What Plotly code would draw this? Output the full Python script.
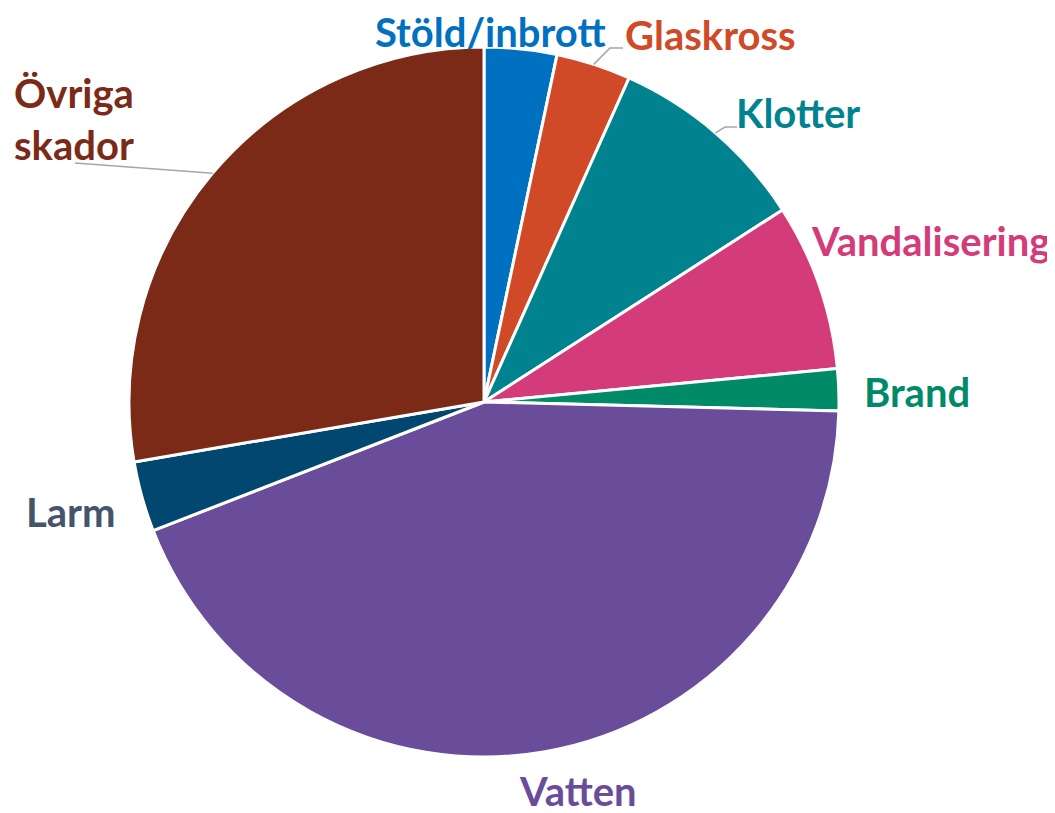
import math
import plotly.graph_objects as go

# ---- data ----
labels = ["Stöld/inbrott", "Glaskross", "Klotter", "Vandalisering", "Brand",
          "Vatten", "Larm", "Övriga skador"]
values = [3.3, 3.4, 9.2, 7.6, 1.9, 43.7, 3.2, 27.7]

# ---- styles ----
slice_colors = ["#0070C0", "#D04A27", "#00838F", "#D43B7A", "#008A68",
                "#694D9B", "#02476F", "#7B2A17"]
text_colors = ["#0070C0", "#D04A27", "#00838F", "#D43B7A", "#008A68",
               "#694D9B", "#44546A", "#7B2A17"]
label_text = ["Stöld/inbrott", "Glaskross", "Klotter", "Vandalisering", "Brand",
              "Vatten", "Larm", "Övriga<br>skador"]
# label centre positions in screen pixels (layout, not data)
label_pos = [(490, 32), (710, 35), (798, 113), (930, 241), (917, 392),
             (578, 791), (71, 512), (74, 119)]
label_align = ["center"] * 7 + ["left"]
# leader lines: end points near the label (screen pixels)
leader_end = {1: [(610, 48), (623, 48)], 2: [(725, 127), (737, 127)],
              7: [(75, 163)]}

W, H = 1055, 813
OFF = 8  # page body margin offset
cx, cy, r = 484 - OFF, 402 - OFF, 355


def px2paper(x, y):
    return (x - OFF) / W, 1 - (y - OFF) / H


fig = go.Figure(go.Pie(
    labels=labels,
    values=values,
    sort=False,
    direction="clockwise",
    rotation=0,
    textinfo="none",
    marker=dict(colors=slice_colors, line=dict(color="white", width=3)),
    domain=dict(x=[(cx - r) / W, (cx + r) / W], y=[(H - cy - r) / H, (H - cy + r) / H]),
    showlegend=False,
    hoverinfo="label+value",
))

total = sum(values)
cum = 0.0
annotations = []
shapes = []
for i, v in enumerate(values):
    mid = (cum + v / 2) / total * 2 * math.pi
    cum += v
    ax, ay = px2paper(*label_pos[i])
    annotations.append(dict(
        x=ax, y=ay, xref="paper", yref="paper",
        text=label_text[i], showarrow=False, align=label_align[i],
        xanchor="center", yanchor="middle",
        font=dict(family="Lato", size=40, color=text_colors[i], weight="bold"),
    ))
    if i in leader_end:
        ex = cx + OFF + r * math.sin(mid)
        ey = cy + OFF - r * math.cos(mid)
        pts = [px2paper(ex, ey)] + [px2paper(x, y) for x, y in leader_end[i]]
        path = "M " + " L ".join(f"{x},{y}" for x, y in pts)
        shapes.append(dict(type="path", path=path, xref="paper", yref="paper",
                           line=dict(color="#A6A6A6", width=1.5)))

fig.update_layout(
    width=W, height=H,
    margin=dict(l=0, r=0, t=0, b=0),
    paper_bgcolor="white",
    plot_bgcolor="white",
    annotations=annotations,
    shapes=shapes,
    font=dict(family="Lato"),
)
fig.write_html("out.html")
